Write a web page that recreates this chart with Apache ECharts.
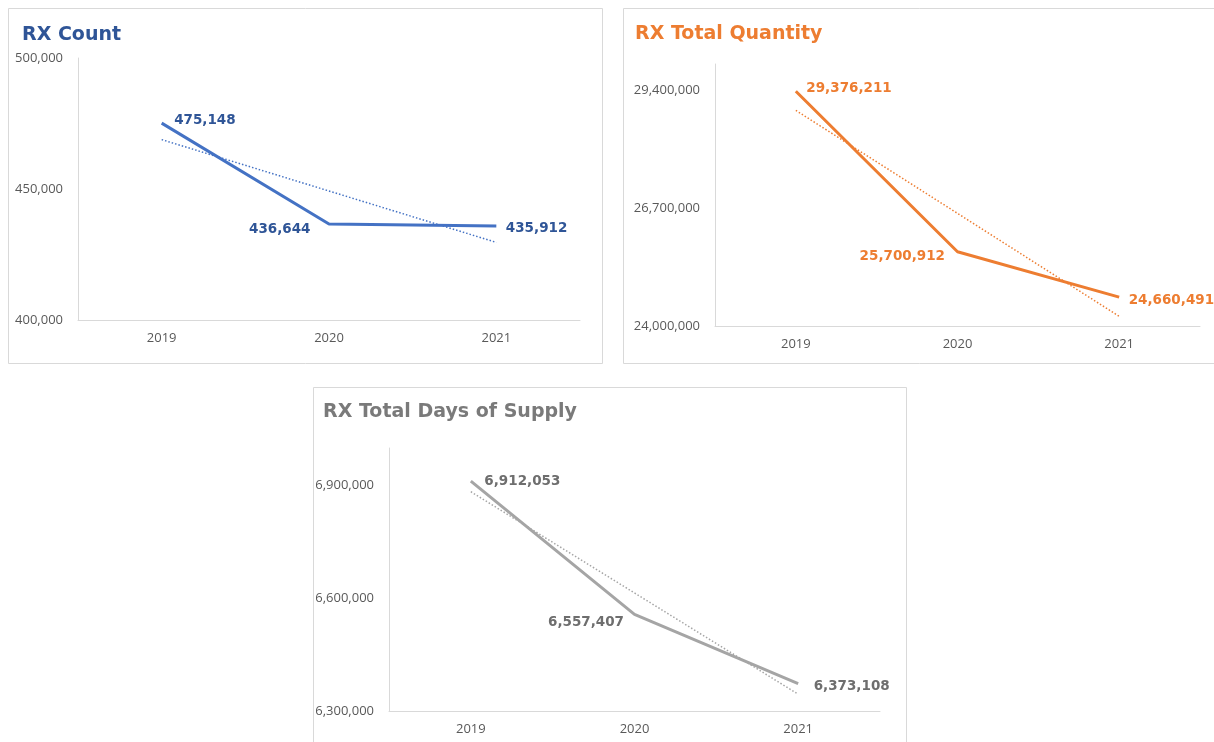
<!DOCTYPE html>
<html>
<head>
<meta charset="utf-8">
<script src="https://cdn.jsdelivr.net/npm/echarts@6/dist/echarts.min.js"></script>
<style>
html,body{margin:0;padding:0;background:#fff;}
#chart{width:1214px;height:742px;}
</style>
</head>
<body>
<div id="chart"></div>
<script>
// ---- data ----
const years = ['2019', '2020', '2021'];
const rxCount = [475148, 436644, 435912];
const rxQuantity = [29376211, 25700912, 24660491];
const rxDaysSupply = [6912053, 6557407, 6373108];

const titles = ['RX Count', 'RX Total Quantity', 'RX Total Days of Supply'];
const countAxis = { min: 400000, max: 500000, interval: 50000 };
const quantityAxis = { min: 24000000, max: 30000000, interval: 2700000 };
const supplyAxis = { min: 6300000, max: 7000000, interval: 300000 };

// ---- helpers ----
function linearTrend(vals) {
  const n = vals.length;
  let sx = 0, sy = 0, sxy = 0, sxx = 0;
  vals.forEach((v, i) => { sx += i; sy += v; sxy += i * v; sxx += i * i; });
  const b = (n * sxy - sx * sy) / (n * sxx - sx * sx);
  const a = (sy - b * sx) / n;
  return vals.map((_, i) => a + b * i);
}
const fmt = v => Math.round(v).toLocaleString('en-US');

const panels = [
  { values: rxCount, axis: countAxis, title: titles[0],
    line: '#4472C4', label: '#2F5597', titleColor: '#2F5597',
    grid: { left: 78, top: 58, width: 502, height: 262 },
    box: { x: 8.5, y: 8.5, w: 594, h: 355 }, titlePos: [22, 26],
    labels: [ {position:'right', distance:12, offset:[0,-3]},
              {position:'left', distance:18, offset:[0,6]},
              {position:'right', distance:9, offset:[0,3]} ],
    showMax: true },
  { values: rxQuantity, axis: quantityAxis, title: titles[1],
    line: '#ED7D31', label: '#ED7D31', titleColor: '#ED7D31',
    grid: { left: 715, top: 64, width: 485, height: 262 },
    box: { x: 623.5, y: 8.5, w: 600, h: 355 }, titlePos: [635, 25],
    labels: [ {position:'right', distance:10, offset:[0,-3]},
              {position:'left', distance:12, offset:[0,5]},
              {position:'right', distance:9, offset:[0,3]} ],
    showMax: false },
  { values: rxDaysSupply, axis: supplyAxis, title: titles[2],
    line: '#A5A5A5', label: '#6E6E6E', titleColor: '#7A7A7A',
    grid: { left: 389, top: 448, width: 491, height: 263 },
    box: { x: 313.5, y: 387.5, w: 593, h: 370 }, titlePos: [323, 403],
    labels: [ {position:'right', distance:13, offset:[0,0]},
              {position:'left', distance:10, offset:[0,8]},
              {position:'right', distance:15, offset:[0,3]} ],
    showMax: false }
];

const option = {
  backgroundColor: '#fff',
  animation: false,
  grid: [], xAxis: [], yAxis: [], series: [], title: [],
  graphic: []
};

panels.forEach((p, i) => {
  option.graphic.push({
    type: 'rect', z: -1, silent: true,
    shape: { x: p.box.x, y: p.box.y, width: p.box.w, height: p.box.h },
    style: { fill: '#fff', stroke: '#D9D9D9', lineWidth: 1 }
  });
  option.title.push({
    text: p.title, left: p.titlePos[0], top: p.titlePos[1], padding: 0,
    textStyle: { fontFamily: 'DejaVu Sans', fontWeight: 'bold', fontSize: 19, color: p.titleColor }
  });
  option.grid.push(Object.assign({ containLabel: false }, p.grid));
  option.xAxis.push({
    type: 'category', gridIndex: i, data: years, boundaryGap: true,
    axisLine: { show: true, lineStyle: { color: '#D9D9D9', width: 1 } },
    axisTick: { show: false }, splitLine: { show: false },
    axisLabel: { color: '#595959', fontFamily: 'Open Sans', fontSize: 13, margin: 12 }
  });
  option.yAxis.push({
    type: 'value', gridIndex: i, min: p.axis.min, max: p.axis.max, interval: p.axis.interval,
    axisLine: { show: true, lineStyle: { color: '#D9D9D9', width: 1 } },
    axisTick: { show: false }, splitLine: { show: false },
    axisLabel: { color: '#595959', fontFamily: 'Open Sans', fontSize: 13, margin: 15,
                 showMaxLabel: p.showMax, formatter: v => fmt(v) }
  });
  option.series.push({
    type: 'line', xAxisIndex: i, yAxisIndex: i, z: 3,
    symbol: 'circle', symbolSize: 1, showSymbol: true,
    itemStyle: { color: 'rgba(0,0,0,0)' },
    lineStyle: { color: p.line, width: 3, cap: 'butt' },
    data: p.values.map((v, k) => ({
      value: v,
      label: Object.assign({
        show: true, formatter: d => fmt(d.value), color: p.label,
        fontFamily: 'DejaVu Sans', fontWeight: 'bold', fontSize: 13.5
      }, p.labels[k])
    }))
  });
  option.series.push({
    type: 'line', xAxisIndex: i, yAxisIndex: i, symbol: 'none', z: 2,
    lineStyle: { color: p.line, width: 1.5, type: [1.5, 2] },
    data: linearTrend(p.values)
  });
});

const chart = echarts.init(document.getElementById('chart'), null, { renderer: 'canvas' });
chart.setOption(option);
</script>
</body>
</html>
